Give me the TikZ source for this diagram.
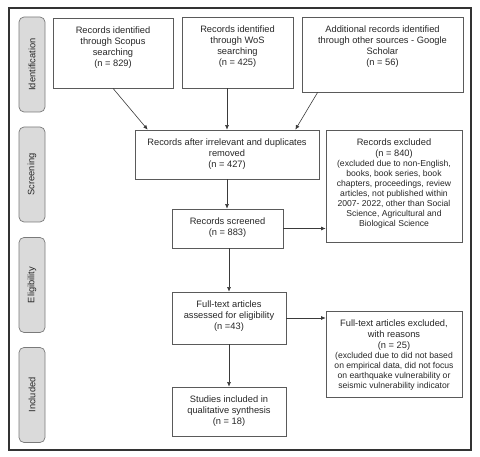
\documentclass[tikz,border=0pt]{standalone}
\usepackage{fontspec}
\setmainfont{Liberation Sans}
\usetikzlibrary{arrows.meta}
\definecolor{txt}{HTML}{262626}
\definecolor{boxline}{HTML}{5A5A5A}
\definecolor{arrcol}{HTML}{3A3A3A}
\definecolor{phasefill}{HTML}{DADADA}
\definecolor{phaseline}{HTML}{7A7A7A}
\definecolor{framecol}{HTML}{333333}
\newcommand{\bxt}[3]{\parbox[c][#2][t]{#1}{\centering\fontsize{9.3}{10.7}\selectfont\rule{0pt}{16pt}#3}}
\newcommand{\smalldet}{\fontsize{8.6}{10}\selectfont}
\tikzset{
  box/.style={draw=boxline, line width=0.7pt, inner sep=0pt, text=txt},
  phase/.style={draw=phaseline, fill=phasefill, rounded corners=5pt, line width=0.7pt,
    rotate=90, minimum width=95pt, minimum height=26pt, inner sep=0pt,
    font=\fontsize{9.3}{10}\selectfont, text=txt},
  arr/.style={draw=arrcol, line width=0.6pt, -{Latex[length=4.5pt,width=4pt]}},
  frame/.style={draw=framecol, line width=1.6pt}
}
\begin{document}
\begin{tikzpicture}[x=1pt,y=-1pt]
\useasboundingbox (0,0) rectangle (480,457);
\draw[frame] (9,8) rectangle (471,450);
% phases
\node[phase] (pid) at (32,64.5) {Identification};
\node[phase] (pscr) at (32,174.5) {Screening};
\node[phase] (pel) at (32,285) {Eligibility};
\node[phase] (pinc) at (32,395) {Included};
% boxes
\node[box] (scopus) at (113,53) {\bxt{120pt}{70pt}{Records identified\\through Scopus\\searching\\(n = 829)}};
\node[box] (wos) at (237.5,52.5) {\bxt{111pt}{71pt}{Records identified\\through WoS\\searching\\(n = 425)}};
\node[box] (google) at (382.5,54.5) {\bxt{161pt}{75pt}{Additional records identified\\through other sources - Google\\Scholar\\(n = 56)}};
\node[box] (dup) at (227,154.5) {\bxt{184pt}{49pt}{Records after irrelevant and duplicates\\removed\\(n = 427)}};
\node[box] (scr) at (227.5,228.5) {\bxt{111pt}{39pt}{Records screened\\(n = 883)}};
\node[box] (excl) at (394,186) {\bxt{136pt}{112pt}{Records excluded\\(n = 840)\par
  {\smalldet (excluded due to non-English,\\books, book series, book\\chapters, proceedings, review\\articles, not published within\\2007- 2022, other than Social\\Science, Agricultural and\\Biological Science\par}}};
\node[box] (full) at (229,318) {\bxt{114pt}{52pt}{Full-text articles\\assessed for eligibility\\(n =43)}};
\node[box] (exft) at (394,354) {\bxt{136pt}{86pt}{Full-text articles excluded,\\with reasons\\(n = 25)\par
  {\smalldet (excluded due to did not based\\on empirical data, did not focus\\on earthquake vulnerability or\\seismic vulnerability indicator\par}}};
\node[box] (stud) at (229,411.5) {\bxt{114pt}{49pt}{Studies included in\\qualitative synthesis\\(n = 18)}};
% arrows
\draw[arr] (scopus.south) -- ([xshift=13pt]dup.north west);
\draw[arr] (wos.south -| dup.north) -- (dup.north);
\draw[arr] ([xshift=16pt]google.south west) -- ([xshift=-24pt]dup.north east);
\draw[arr] (dup.south) -- (dup.south |- scr.north);
\draw[arr] (scr.east) -- (scr.east -| excl.west);
\draw[arr] (full.north |- scr.south) -- (full.north);
\draw[arr] (full.east) -- (full.east -| exft.west);
\draw[arr] (full.south) -- (stud.north);
\end{tikzpicture}
\end{document}
